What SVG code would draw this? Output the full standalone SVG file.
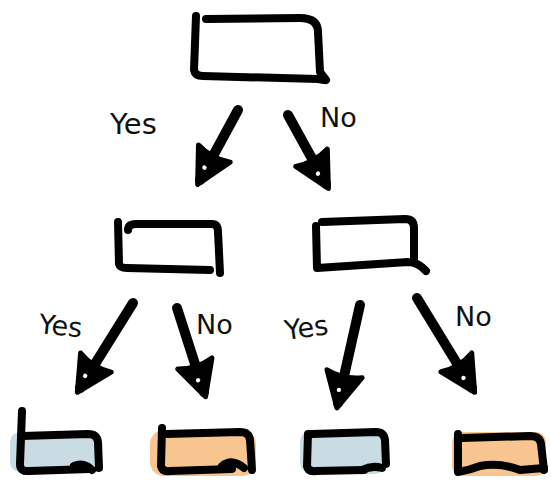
<svg xmlns="http://www.w3.org/2000/svg" width="551" height="481" viewBox="0 0 551 481">
<style>
.s{fill:none;stroke:#000;stroke-width:8;stroke-linecap:round;stroke-linejoin:round}
.a{fill:none;stroke:#000;stroke-width:10;stroke-linecap:round;marker-end:url(#head)}
.t{font-family:"DejaVu Sans","Liberation Sans",sans-serif;font-size:27px;fill:#111}
.blue{fill:#c9dce3}
.orange{fill:#f8c590}
</style>
<defs>
<marker id="head" markerUnits="userSpaceOnUse" markerWidth="50" markerHeight="50" viewBox="-40 -25 50 50" refX="0" refY="0" orient="auto">
<path d="M-30,-18 L5,0 L-30,18 Q-24,0 -30,-18 Z" fill="#000" stroke="#000" stroke-width="5" stroke-linejoin="round"/>
<circle cx="-13" cy="2" r="2.2" fill="#fff"/>
</marker>
</defs>
<rect width="551" height="481" fill="#fff"/>

<g id="root">
<path class="s" d="M196,16 L194,70 Q195,76 203,76 L318,79 L324,80"/>
<path class="s" d="M206,19 L300,18 Q318,18 318,32 L320,72 L326,80"/>
</g>

<g id="mid-left">
<path class="s" d="M118,222 L119,264 Q120,268 127,268 L210,270"/>
<path class="s" d="M128,230 Q128,224 136,224 L212,224 Q218,224 218,232 L220,273"/>
</g>

<g id="mid-right">
<path class="s" d="M316,226 L317,268 L408,262 Q418,262 426,271"/>
<path class="s" d="M322,222 L405,219 Q414,219 414,228 L414,262"/>
</g>

<g id="leaf1">
<rect class="blue" x="10" y="432" width="90" height="40" rx="10"/>
<path class="s" d="M22,411 L20,464 Q20,472 29,471 L90,469"/>
<path class="s" d="M22,436 L88,434 Q97,434 98,442 L99,468 M74,466 Q84,462 92,470"/>
</g>

<g id="leaf2">
<rect class="orange" x="150" y="430" width="106" height="46" rx="14"/>
<path class="s" d="M162,428 L161,466 Q162,472 170,471 L232,469"/>
<path class="s" d="M166,434 L240,432 Q249,432 250,440 L252,470 M222,466 Q232,458 244,468"/>
</g>

<g id="leaf3">
<rect class="blue" x="300" y="430" width="86" height="44" rx="12"/>
<path class="s" d="M308,434 L307,466 Q308,472 316,471 L364,470"/>
<path class="s" d="M312,434 L376,432 Q384,432 385,440 L386,464 M362,470 Q372,465 382,468"/>
</g>

<g id="leaf4">
<rect class="orange" x="452" y="432" width="94" height="44" rx="10"/>
<path class="s" d="M458,434 L458,472 Q470,470 480,466 Q500,462 520,470 L544,468"/>
<path class="s" d="M462,438 L530,436 Q540,436 541,444 L544,470"/>
</g>

<g id="connectors">
<path class="a" d="M238,110 L200,180"/>
<path class="a" d="M288,115 L326,184"/>
<path class="a" d="M133,303 L80,388"/>
<path class="a" d="M177,308 L204,392"/>
<path class="a" d="M360,305 L338,403"/>
<path class="a" d="M417,298 L472,388"/>
</g>

<g id="labels">
<text class="t" x="110" y="134" style="font-size:29px">Yes</text>
<text class="t" x="320" y="127">No</text>
<text class="t" x="38" y="333" transform="rotate(6 38 333)">Yes</text>
<text class="t" x="196" y="334">No</text>
<text class="t" x="286" y="340" transform="rotate(-8 286 340)">Yes</text>
<text class="t" x="455" y="326">No</text>
</g>
</svg>
